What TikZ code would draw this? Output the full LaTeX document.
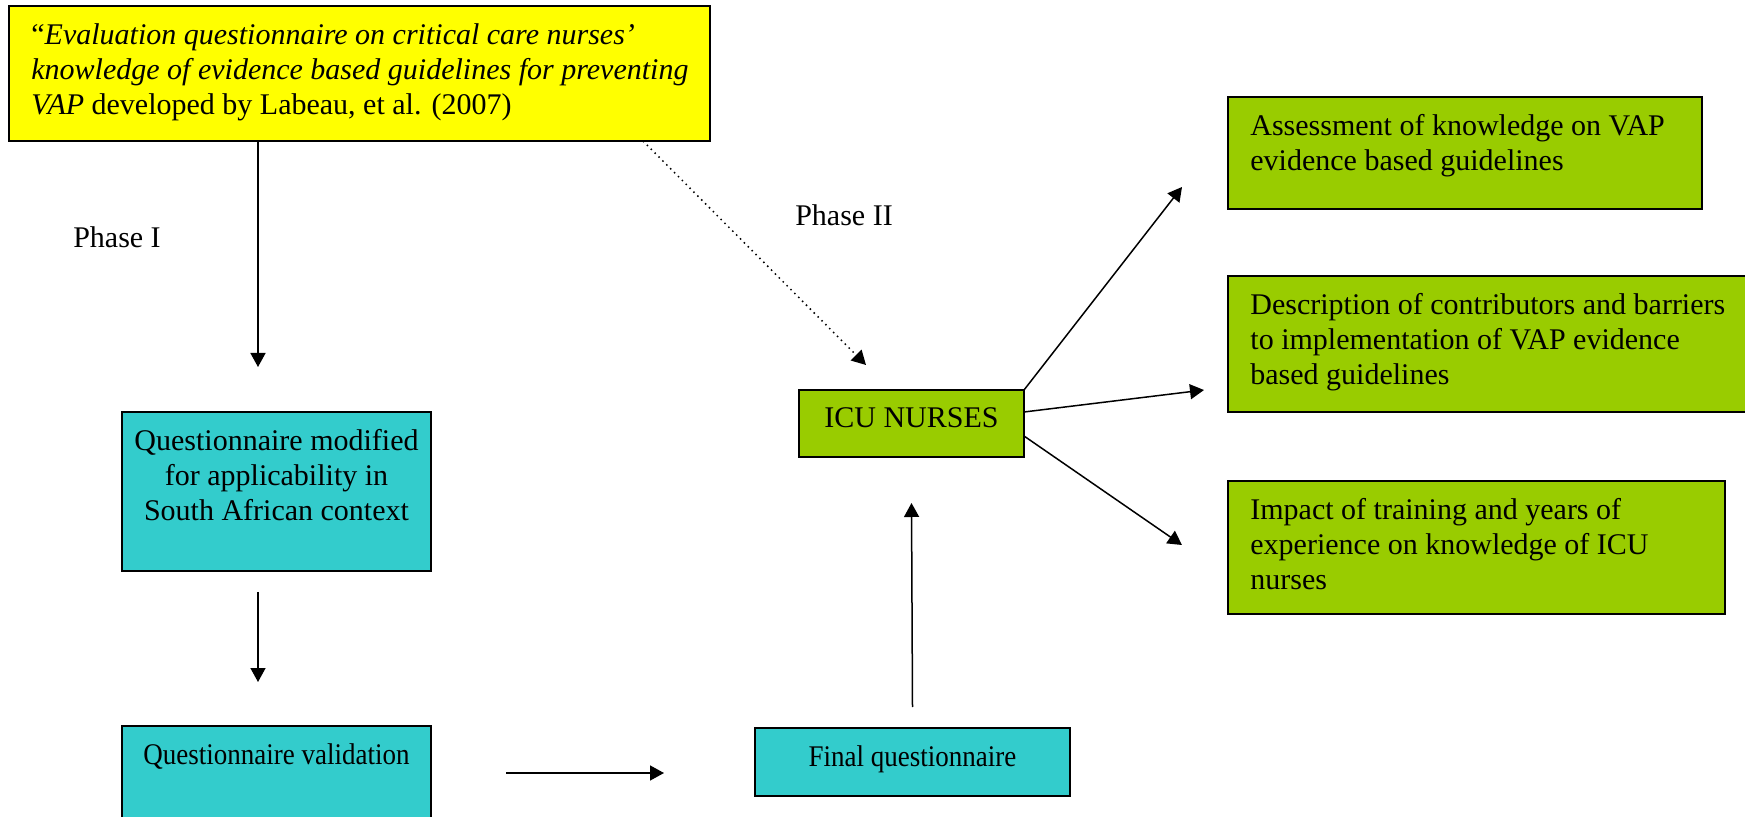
\documentclass[tikz,border=0pt]{standalone}
\usepackage{fontspec}
\usepackage{graphicx}
\setmainfont{Liberation Serif}
\usetikzlibrary{arrows.meta,calc}
\definecolor{vapyellow}{HTML}{FFFF00}
\definecolor{vapcyan}{HTML}{33CCCC}
\definecolor{vapgreen}{HTML}{99CC00}
\tikzset{
  box/.style={draw, line width=0.9pt, anchor=north west, inner sep=0pt, outer sep=0pt},
  inleft/.style={anchor=north west, align=left, inner xsep=11pt, inner ysep=8.5pt},
  intop/.style={anchor=north, align=center, inner xsep=0pt, inner ysep=8.5pt},
  arr/.style={-{Triangle[length=7pt,width=7.5pt]}, line width=0.75pt},
}
\begin{document}
\begin{tikzpicture}[x=0.5pt, y=-0.5pt, font=\fontsize{15}{17.5}\selectfont]
      \useasboundingbox (0,0) rectangle (1745,817);
      \clip (0,0) rectangle (1745,817);
      % source questionnaire
      \node[box, fill=vapyellow, minimum width=350.5pt, minimum height=67.5pt,
        label={[inleft]north west:``\textit{Evaluation questionnaire on critical care nurses'}\\
          \textit{knowledge of evidence based guidelines for preventing}\\
          \textit{VAP} developed by Labeau, et al. (2007)}] (src) at (9,6) {};
      % phase I
      \node[box, fill=vapcyan, minimum width=154.5pt, minimum height=79.5pt,
        label={[intop]north:Questionnaire modified\\for applicability in\\South African context}] (modq) at (122,412) {};
      \node[box, fill=vapcyan, minimum width=154.5pt, minimum height=60pt,
        label={[intop]north:\scalebox{0.9}[1]{Questionnaire validation}}] (valq) at (122,726) {};
      \node[box, fill=vapcyan, minimum width=157.5pt, minimum height=34pt,
        label={[intop]north:\scalebox{0.9}[1]{Final questionnaire}}] (finalq) at (755,728) {};
      % phase II
      \node[box, fill=vapgreen, minimum width=112.5pt, minimum height=33.5pt,
        label={[intop]north:ICU NURSES}] (icu) at (799,390) {};
      \node[box, fill=vapgreen, minimum width=237pt, minimum height=56pt,
        label={[inleft]north west:Assessment of knowledge on VAP\\evidence based guidelines}] (assess) at (1228,97) {};
      \node[box, fill=vapgreen, minimum width=270pt, minimum height=68pt,
        label={[inleft]north west:Description of contributors and barriers\\to implementation of VAP evidence\\based guidelines}] (descr) at (1228,276) {};
      \node[box, fill=vapgreen, minimum width=248.5pt, minimum height=66.5pt,
        label={[inleft]north west:Impact of training and years of\\experience on knowledge of ICU\\nurses}] (impact) at (1228,481) {};
      \node (ph1) at (117,237) {Phase I};
      \node (ph2) at (844,215) {Phase II};
      % connectors
      \draw[arr] ($(src.south west)+(249,0)$) -- ($(modq.north west)+(136,-45)$);
      \draw[arr] ($(modq.south west)+(136,21)$) -- ($(valq.north west)+(136,-44)$);
      \draw[arr] ($(valq.north east)+(75,47)$) -- ($(finalq.north west)+(-91,45)$);
      \draw[arr] ($(finalq.north)+(0,-21)$) -- ($(icu.south)+(0,46)$);
      \draw[arr, dotted] ($(src.south west)+(634,0)$) -- ($(icu.north west)+(67,-25)$);
      \draw[arr] (icu.north east) -- ($(assess.south west)+(-46,-22)$);
      \draw[arr] ($(icu.north east)+(0,22)$) -- ($(descr.west)+(-24,46)$);
      \draw[arr] ($(icu.north east)+(0,46)$) -- ($(impact.north west)+(-46,64)$);
\end{tikzpicture}
\end{document}
